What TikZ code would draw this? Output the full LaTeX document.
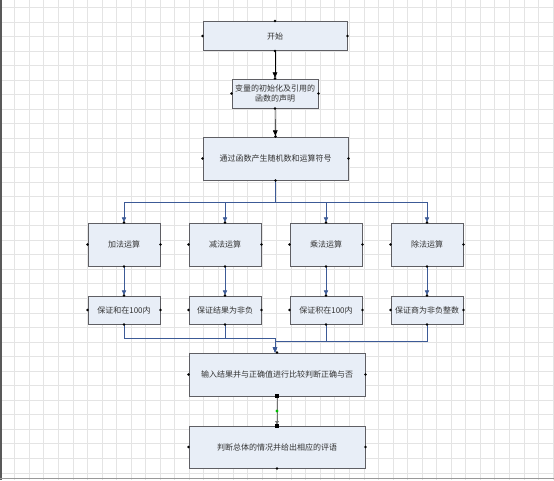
\documentclass[tikz,border=0pt]{standalone}
\usepackage{fontspec}
\newfontfamily\cjk{Noto Sans CJK SC}
\usepackage{xcolor}
\usetikzlibrary{arrows.meta, positioning, calc}
\definecolor{boxfill}{RGB}{232,238,247}
\definecolor{boxline}{RGB}{95,95,100}
\definecolor{wire}{RGB}{112,134,168}
\definecolor{tipblue}{RGB}{60,90,150}
\definecolor{pin}{RGB}{25,30,110}
\definecolor{gridc}{RGB}{228,228,228}

\begin{document}
\begin{tikzpicture}[
  x=1pt, y=-1pt,
  font=\cjk\fontsize{8}{10.5}\selectfont,
  every node/.style={align=center, inner sep=1pt, text=black!80},
  proc/.style  ={rectangle, draw=boxline, fill=boxfill, line width=0.9pt},
  arr/.style   ={-{Latex[length=2.2mm, width=1.8mm]}, draw=black, line width=0.6pt},
  link/.style  ={-{Latex[length=1.8mm, width=1.6mm]}, draw=wire, color=tipblue, line width=0.6pt},
  handle/.style={fill=black, minimum size=4pt, inner sep=0pt, rectangle}
]
% page, grid and window edges
\useasboundingbox (0,0) rectangle (554,480);
\fill[white] (0,0) rectangle (554,480);
\foreach \gx in {0,14.55,...,554} \draw[gridc, line width=0.5pt] (\gx,0) -- (\gx,480);
\foreach \gy in {7.2,21.75,...,480} \draw[gridc, line width=0.5pt] (0,\gy) -- (554,\gy);
\draw[black!65, line width=2pt] (1,0) -- (1,480);
\draw[black!40, line width=1pt] (0,478.5) -- (554,478.5);

% Main column (x=275)
\node[proc, minimum width=144pt, minimum height=29pt] (start) at (275,36)  {开始};
\node[proc, minimum width=86pt,  minimum height=29pt] (init)  at (275,93.5) {变量的初始化及引用的\\函数的声明};
\node[proc, minimum width=145pt, minimum height=43pt] (gen)   at (275.5,158.5) {通过函数产生随机数和运算符号};

% Row of operations (y=244.5), four columns
\node[proc, minimum width=72pt, minimum height=43pt] (add) at (124,244.5) {加法运算};
\node[proc, minimum width=72pt, minimum height=43pt] (sub) at (225,244.5) {减法运算};
\node[proc, minimum width=72pt, minimum height=43pt] (mul) at (326,244.5) {乘法运算};
\node[proc, minimum width=72pt, minimum height=43pt] (dvs) at (427,244.5) {除法运算};

% Row of checks (y=310)
\node[proc, minimum width=72pt, minimum height=28pt] (chkadd) at (124,310) {保证和在100内};
\node[proc, minimum width=72pt, minimum height=28pt] (chksub) at (225,310) {保证结果为非负};
\node[proc, minimum width=72pt, minimum height=28pt] (chkmul) at (326,310) {保证积在100内};
\node[proc, minimum width=72pt, minimum height=28pt] (chkdvs) at (427,310) {保证商为非负整数};

% Bottom column
\node[proc, minimum width=176pt, minimum height=43pt] (cmp)   at (277,374.5) {输入结果并与正确值进行比较判断正确与否};
\node[proc, minimum width=176pt, minimum height=42pt] (judge) at (277,447)   {判断总体的情况并给出相应的评语};

% Edges
\draw[arr] (start) -- (init);
\draw[arr] (init)  -- (gen);
\draw[link] (gen.south) -- ++(0,22) -| (add.north);
\draw[link] (gen.south) -- ++(0,22) -| (sub.north);
\draw[link] (gen.south) -- ++(0,22) -| (mul.north);
\draw[link] (gen.south) -- ++(0,22) -| (dvs.north);
\draw[link] (add) -- (chkadd);
\draw[link] (sub) -- (chksub);
\draw[link] (mul) -- (chkmul);
\draw[link] (dvs) -- (chkdvs);
\draw[link] (chkadd.south) -- ++(0,14) -| ([xshift=-2pt]cmp.north);
\draw[link] (chksub.south) -- ++(0,14) -| ([xshift=-2pt]cmp.north);
\draw[link] (chkmul.south) -- ++(0,17) -| ([xshift=-2pt]cmp.north);
\draw[link] (chkdvs.south) -- ++(0,17) -| ([xshift=-2pt]cmp.north);
\draw[-{Latex[length=1.6mm, width=1.4mm]}, draw=black!45, color=black!55, line width=0.8pt] (cmp) -- (judge);

% selected connector: end handles and mid point
\node[handle] (hcmp)   at (cmp.south) {};
\node[handle] (hjudge) at (judge.north) {};
\fill[green!75!black] ($(hcmp)!0.5!(hjudge)$) circle (1.6pt);

% connection points on every box
\foreach \b in {start,init,gen,add,sub,mul,dvs,chkadd,chksub,chkmul,chkdvs,cmp,judge}
  \foreach \a in {north,south,east,west}
    \fill[pin] (\b.\a) circle (1.4pt);
\end{tikzpicture}
\end{document}
